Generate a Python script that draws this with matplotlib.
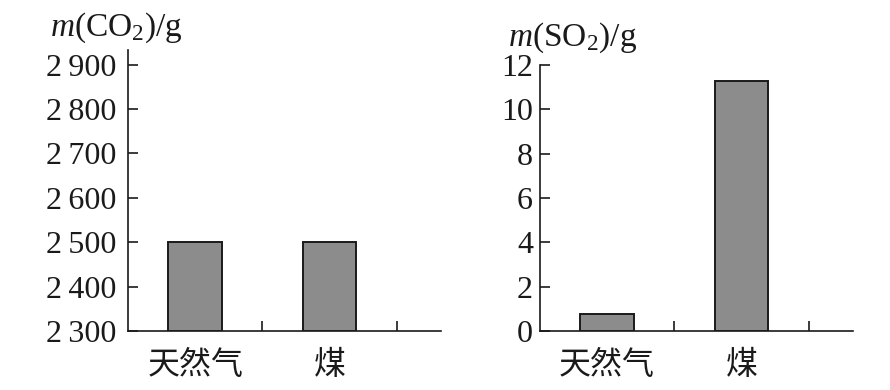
import matplotlib
matplotlib.use("Agg")
import matplotlib.pyplot as plt
from matplotlib.ticker import FixedLocator

# data
fuels = ["天然气", "煤"]
co2_mass = [2500, 2500]
so2_mass = [0.75, 11.3]

co2_ticks = [2300, 2400, 2500, 2600, 2700, 2800, 2900]
co2_tick_labels = ["2\u2009300", "2\u2009400", "2\u2009500", "2\u2009600",
                   "2\u2009700", "2\u2009800", "2\u2009900"]
so2_ticks = [0, 2, 4, 6, 8, 10, 12]

serif = ["Liberation Serif", "DejaVu Serif"]
cjk = ["Noto Sans CJK SC", "DejaVu Sans"]

plt.rcParams["mathtext.fontset"] = "custom"
plt.rcParams["mathtext.rm"] = "Liberation Serif"
plt.rcParams["mathtext.it"] = "Liberation Serif:italic"

fig = plt.figure(figsize=(8.9, 3.9), dpi=100)
ax1 = fig.add_axes([0.1438, 0.1513, 0.3517, 0.7205])
ax2 = fig.add_axes([0.6067, 0.1513, 0.3517, 0.6820])

bar_color = "#8c8c8c"
x = list(range(len(fuels)))


def style_axis(ax, values, ticks, labels, ylim, label_pad):
    ax.bar(x, [v - ylim[0] for v in values], bottom=ylim[0], width=0.4,
           color=bar_color, edgecolor="#1a1a1a", linewidth=1.4, zorder=3)
    ax.set_xlim(-0.5, 1.83)
    ax.set_ylim(*ylim)
    for s in ("top", "right"):
        ax.spines[s].set_visible(False)
    for s in ("left", "bottom"):
        ax.spines[s].set_linewidth(1.2)
        ax.spines[s].set_color("#1a1a1a")
    ax.set_yticks(ticks)
    ax.set_yticklabels(labels, family=serif, fontsize=23, color="#1a1a1a")
    ax.tick_params(axis="y", direction="in", length=7, width=1.2,
                   pad=label_pad, color="#1a1a1a")
    ax.set_xticks(x)
    ax.set_xticklabels(fuels, family=cjk, fontsize=23, color="#1a1a1a")
    ax.tick_params(axis="x", which="major", length=0, pad=13)
    ax.xaxis.set_minor_locator(FixedLocator([0.5, 1.5]))
    ax.tick_params(axis="x", which="minor", direction="in", length=7,
                   width=1.2, color="#1a1a1a")
    return ax


style_axis(ax1, co2_mass, co2_ticks, co2_tick_labels, (2300, 2933), 8)
style_axis(ax2, so2_mass, so2_ticks, [str(t) for t in so2_ticks], (0, 12), 5)

fig.text(50 / 890, 1 - 36 / 390, r"$m$(CO$_2$)/g", family=serif,
         fontsize=24, color="#1a1a1a")
fig.text(508 / 890, 1 - 46 / 390, r"$m$(SO$_2$)/g", family=serif,
         fontsize=24, color="#1a1a1a")

fig.savefig("out.png", dpi=100)
